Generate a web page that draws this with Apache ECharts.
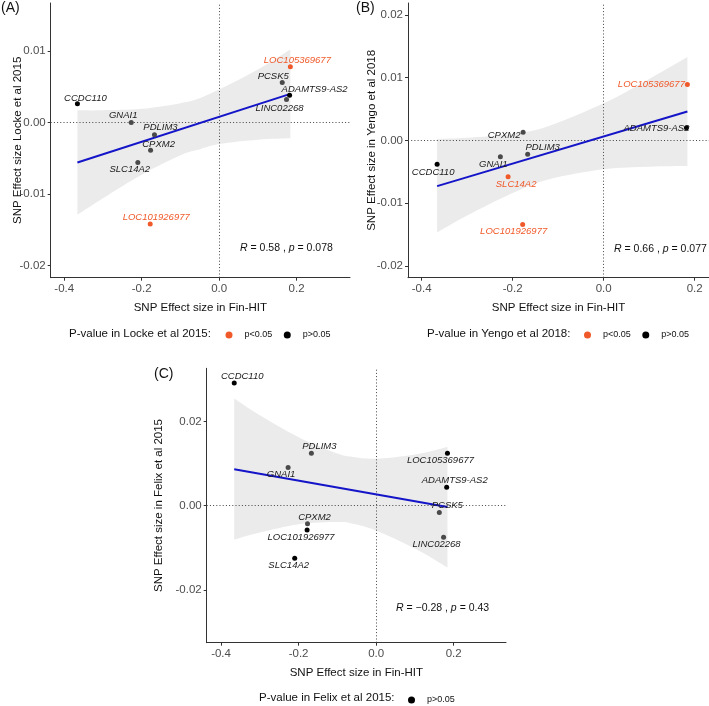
<!DOCTYPE html>
<html><head><meta charset="utf-8">
<script src="https://cdn.jsdelivr.net/npm/echarts@6/dist/echarts.min.js"></script>
<style>html,body{margin:0;padding:0;background:#fff}#c{width:709px;height:706px}</style>
</head><body><div id="c"></div>
<script>
// ---------------- data ----------------
const genes = ['CCDC110','GNAI1','PDLIM3','CPXM2','SLC14A2','LOC101926977','LOC105369677','PCSK5','ADAMTS9-AS2','LINC02268'];
const finHIT = [-0.366,-0.227,-0.167,-0.177,-0.210,-0.178,0.184,0.163,0.182,0.174];
const locke2015 = [0.0026,0.0000,-0.0017,-0.0039,-0.0056,-0.0142,0.0078,0.0056,0.0038,0.0032];
const yengo2018 = [-0.0038,-0.0026,-0.0022,0.0013,-0.0058,-0.0134,0.0089,null,0.0020,null];
const felix2015 = [0.0292,0.0091,0.0125,-0.0043,-0.0125,-0.0058,0.0125,-0.0016,0.0044,-0.0075];
const sigLocke = ['LOC101926977','LOC105369677'];
const sigYengo = ['SLC14A2','LOC101926977','LOC105369677'];
const sigFelix = [];

// fitted lines
const fitAx = [-0.366,0.184], fitAy = [-0.0056,0.0040];
const fitBx = [-0.366,0.184], fitBy = [-0.0073,0.0046];
const fitCx = [-0.366,0.184], fitCy = [0.0087,-0.0003];
// confidence bands
const bandAx = [-0.366,-0.3,-0.2,-0.1,-0.06,0,0.1,0.184];
const bandAhi = [0.0017,0.0017,0.0019,0.0027,0.0032,0.0046,0.0074,0.0102];
const bandAlo = [-0.0129,-0.0106,-0.0073,-0.0046,-0.0039,-0.0030,-0.0024,-0.0022];
const bandBx = [-0.366,-0.3,-0.2,-0.12,0,0.1,0.184];
const bandBhi = [0.0002,0.0004,0.0010,0.0023,0.0059,0.0098,0.0133];
const bandBlo = [-0.0147,-0.0120,-0.0084,-0.0062,-0.0046,-0.0042,-0.0041];
const bandCx = [-0.366,-0.3,-0.2,-0.1,-0.06,0,0.1,0.184];
const bandChi = [0.0255,0.0215,0.0163,0.0124,0.0116,0.0112,0.0122,0.0140];
const bandClo = [-0.0081,-0.0064,-0.0044,-0.0039,-0.0043,-0.0059,-0.0102,-0.0147];

const xTicks = [-0.4,-0.2,0,0.2];
const yTicksA = [-0.02,-0.01,0,0.01];
const yTicksB = [-0.02,-0.01,0,0.01,0.02];
const yTicksC = [-0.02,0,0.02];
const statA = 'R = 0.58 , p = 0.078';
const statB = 'R = 0.66 , p = 0.077';
const statC = 'R = \u22120.28 , p = 0.43';

// ---------------- style ----------------
const FONT = "'Liberation Sans', Arial, sans-serif";
const ORANGE = '#F0592A';
const offA = {CCDC110:[8,-6],GNAI1:[-8,-7],PDLIM3:[6,-7],CPXM2:[8,-6],SLC14A2:[-8,7],LOC101926977:[6,-7],LOC105369677:[7,-6],PCSK5:[-9,-6],'ADAMTS9-AS2':[25,-6],LINC02268:[-7,9]};
const offB = {LOC105369677:[-36,0],'ADAMTS9-AS2':[-30,1],CPXM2:[-19,3],PDLIM3:[15,-7],GNAI1:[-7,8],CCDC110:[-4,8],SLC14A2:[8,8],LOC101926977:[-9,7]};
const offC = {CCDC110:[8,-7],PDLIM3:[8,-7],GNAI1:[-7,7],LOC105369677:[-7,7],'ADAMTS9-AS2':[8,-7],PCSK5:[8,-7],LINC02268:[-7,7],CPXM2:[7,-6],LOC101926977:[-6,7],SLC14A2:[-6,7]};
const solidA = ['CCDC110','ADAMTS9-AS2'];
const solidB = ['CCDC110','ADAMTS9-AS2'];
const solidC = ['CCDC110','LOC101926977','SLC14A2','LOC105369677','ADAMTS9-AS2'];

const panels = [
  {grid:{left:50.7,top:3,width:299.3,height:274.7}, x:[-0.435,0.338], y:[-0.0217,0.0167], yTicks:yTicksA, yName:'SNP Effect size Locke et al 2015', yGap:27,
   yv:locke2015, sig:sigLocke, off:offA, solid:solidA, fx:fitAx, fy:fitAy, bx:bandAx, bh:bandAhi, bl:bandAlo},
  {grid:{left:408,top:3,width:301,height:274.7}, x:[-0.430,0.2315], y:[-0.0219,0.0219], yTicks:yTicksB, yName:'SNP Effect size in Yengo et al 2018', yGap:30.5,
   yv:yengo2018, sig:sigYengo, off:offB, solid:solidB, fx:fitBx, fy:fitBy, bx:bandBx, bh:bandBhi, bl:bandBlo},
  {grid:{left:206.7,top:368.3,width:299.3,height:274.4}, x:[-0.437,0.335], y:[-0.0326,0.0327], yTicks:yTicksC, yName:'SNP Effect size in Felix et al 2015', yGap:41.5,
   yv:felix2015, sig:sigFelix, off:offC, solid:solidC, fx:fitCx, fy:fitCy, bx:bandCx, bh:bandChi, bl:bandClo}
];

const axisCommon = {
  axisLine:{show:true,onZero:false,lineStyle:{color:'#333',width:1}},
  axisTick:{show:true,length:3,lineStyle:{color:'#333'}},
  splitLine:{show:false},
  nameMoveOverlap:false,
  nameTextStyle:{fontFamily:FONT,fontSize:11.5,color:'#111'}
};

// smooth path through pixel points (Catmull-Rom -> cubic bezier)
function smoothSeg(pts, start) {
  let d = start ? 'M' + pts[0][0] + ',' + pts[0][1] : 'L' + pts[0][0] + ',' + pts[0][1];
  for (let i = 0; i < pts.length - 1; i++) {
    const p0 = pts[Math.max(0, i - 1)], p1 = pts[i], p2 = pts[i + 1], p3 = pts[Math.min(pts.length - 1, i + 2)];
    const c1 = [p1[0] + (p2[0] - p0[0]) / 6, p1[1] + (p2[1] - p0[1]) / 6];
    const c2 = [p2[0] - (p3[0] - p1[0]) / 6, p2[1] - (p3[1] - p1[1]) / 6];
    d += 'C' + c1[0] + ',' + c1[1] + ',' + c2[0] + ',' + c2[1] + ',' + p2[0] + ',' + p2[1];
  }
  return d;
}

const grids=[], xAxes=[], yAxes=[], series=[];
panels.forEach((p,i)=>{
  grids.push(p.grid);
  xAxes.push(Object.assign({}, axisCommon, {
    type:'value', gridIndex:i, min:p.x[0], max:p.x[1],
    axisTick:Object.assign({},axisCommon.axisTick,{customValues:xTicks}),
    axisLabel:{customValues:xTicks, formatter:v=>v.toFixed(1), fontFamily:FONT, fontSize:11.5, color:'#4d4d4d', margin:5},
    name:'SNP Effect size in Fin-HIT', nameLocation:'middle', nameGap:24
  }));
  yAxes.push(Object.assign({}, axisCommon, {
    type:'value', gridIndex:i, min:p.y[0], max:p.y[1],
    axisTick:Object.assign({},axisCommon.axisTick,{customValues:p.yTicks}),
    axisLabel:{customValues:p.yTicks, formatter:v=>v.toFixed(2), fontFamily:FONT, fontSize:11.5, color:'#4d4d4d', margin:5},
    name:p.yName, nameLocation:'middle', nameGap:p.yGap
  }));
  // confidence band
  series.push({type:'custom', coordinateSystem:'cartesian2d', xAxisIndex:i, yAxisIndex:i, silent:true, z:1,
    data:[[p.bx[0], p.bl[0]]],
    renderItem:(params, api)=>{
      const up = p.bx.map((x,k)=>api.coord([x,p.bh[k]]));
      const lo = p.bx.map((x,k)=>api.coord([x,p.bl[k]])).reverse();
      const d = smoothSeg(up,true) + smoothSeg(lo,false) + 'Z';
      return {type:'path', shape:{pathData:d}, style:{fill:'#EBEBEB', stroke:null}};
    }});
  // reference lines + fit
  series.push({type:'line', xAxisIndex:i, yAxisIndex:i, symbol:'none', z:3, silent:true,
    lineStyle:{color:'#1414C8',width:2}, data:p.fx.map((x,k)=>[x,p.fy[k]]),
    markLine:{silent:true, symbol:'none', label:{show:false}, z:2,
      lineStyle:{color:'#444',type:[1,2.2],width:1}, data:[{xAxis:0},{yAxis:0}]}});
  // points
  const mk = (isSig)=>{
    const d=[];
    genes.forEach((g,k)=>{
      if (p.yv[k]===null) return;
      const s = p.sig.indexOf(g)>=0;
      if (s!==isSig) return;
      d.push({name:g, value:[finHIT[k],p.yv[k]],
        itemStyle:{color: s?ORANGE:(p.solid.indexOf(g)>=0?'#000':'#4a4a4a'), opacity:1},
        label:{offset:p.off[g]||[0,0], color: s?ORANGE:'#1a1a1a'}});
    });
    return d;
  };
  const lab = {show:true, position:'inside', formatter:'{b}', fontFamily:FONT, fontSize:9.5, fontStyle:'italic', textBorderWidth:0, opacity:1};
  series.push({type:'scatter', name:'p<0.05', xAxisIndex:i, yAxisIndex:i, symbolSize:5, z:5, itemStyle:{color:ORANGE,opacity:1},
    label:lab, data:mk(true)});
  series.push({type:'scatter', name:'p>0.05', xAxisIndex:i, yAxisIndex:i, symbolSize:5, z:5, itemStyle:{color:'#000',opacity:1},
    label:lab, data:mk(false)});
});

const rich = {i:{fontStyle:'italic',fontFamily:FONT,fontSize:10.5,color:'#111'}};
const statText = s => s.replace(/^R/,'{i|R}').replace(/p =/,'{i|p} =');
const tStyle = {fontFamily:FONT,fontSize:10.5,fontWeight:'normal',color:'#111',rich:rich};
const titles = [
  {text:'(A)', left:1, top:1},
  {text:'(B)', left:356, top:1},
  {text:'(C)', left:154, top:367},
].map(t=>Object.assign(t,{padding:0,textStyle:{fontFamily:FONT,fontSize:14,fontWeight:'normal',color:'#111'}}));
titles.push({text:statText(statA), left:240, top:243, padding:0, textStyle:tStyle});
titles.push({text:statText(statB), left:614, top:244, padding:0, textStyle:tStyle});
titles.push({text:statText(statC), left:396, top:603, padding:0, textStyle:tStyle});
const lt = {fontFamily:FONT,fontSize:11.5,fontWeight:'normal',color:'#111'};
titles.push({text:'P-value in Locke et al 2015:', left:69, top:327.5, padding:0, textStyle:lt});
titles.push({text:'P-value in Yengo et al 2018:', left:427, top:327.5, padding:0, textStyle:lt});
titles.push({text:'P-value in Felix et al 2015:', left:259, top:692, padding:0, textStyle:lt});

const legendBase = {orient:'horizontal', icon:'circle', itemWidth:7, itemHeight:7, itemGap:11.5, padding:0, selectedMode:false,
  textStyle:{fontFamily:FONT,fontSize:9,color:'#111',padding:[0,0,0,7]}};
const legends = [
  Object.assign({}, legendBase, {data:['p<0.05','p>0.05'], left:225.5, top:330.5}),
  Object.assign({}, legendBase, {data:['p<0.05','p>0.05'], left:584, top:330.5}),
  Object.assign({}, legendBase, {data:['p>0.05'], left:408, top:695.5})
];

const chart = echarts.init(document.getElementById('c'), null, {renderer:'canvas'});
chart.setOption({
  animation:false, backgroundColor:'#fff',
  title:titles, legend:legends, grid:grids, xAxis:xAxes, yAxis:yAxes, series:series
});
</script></body></html>
